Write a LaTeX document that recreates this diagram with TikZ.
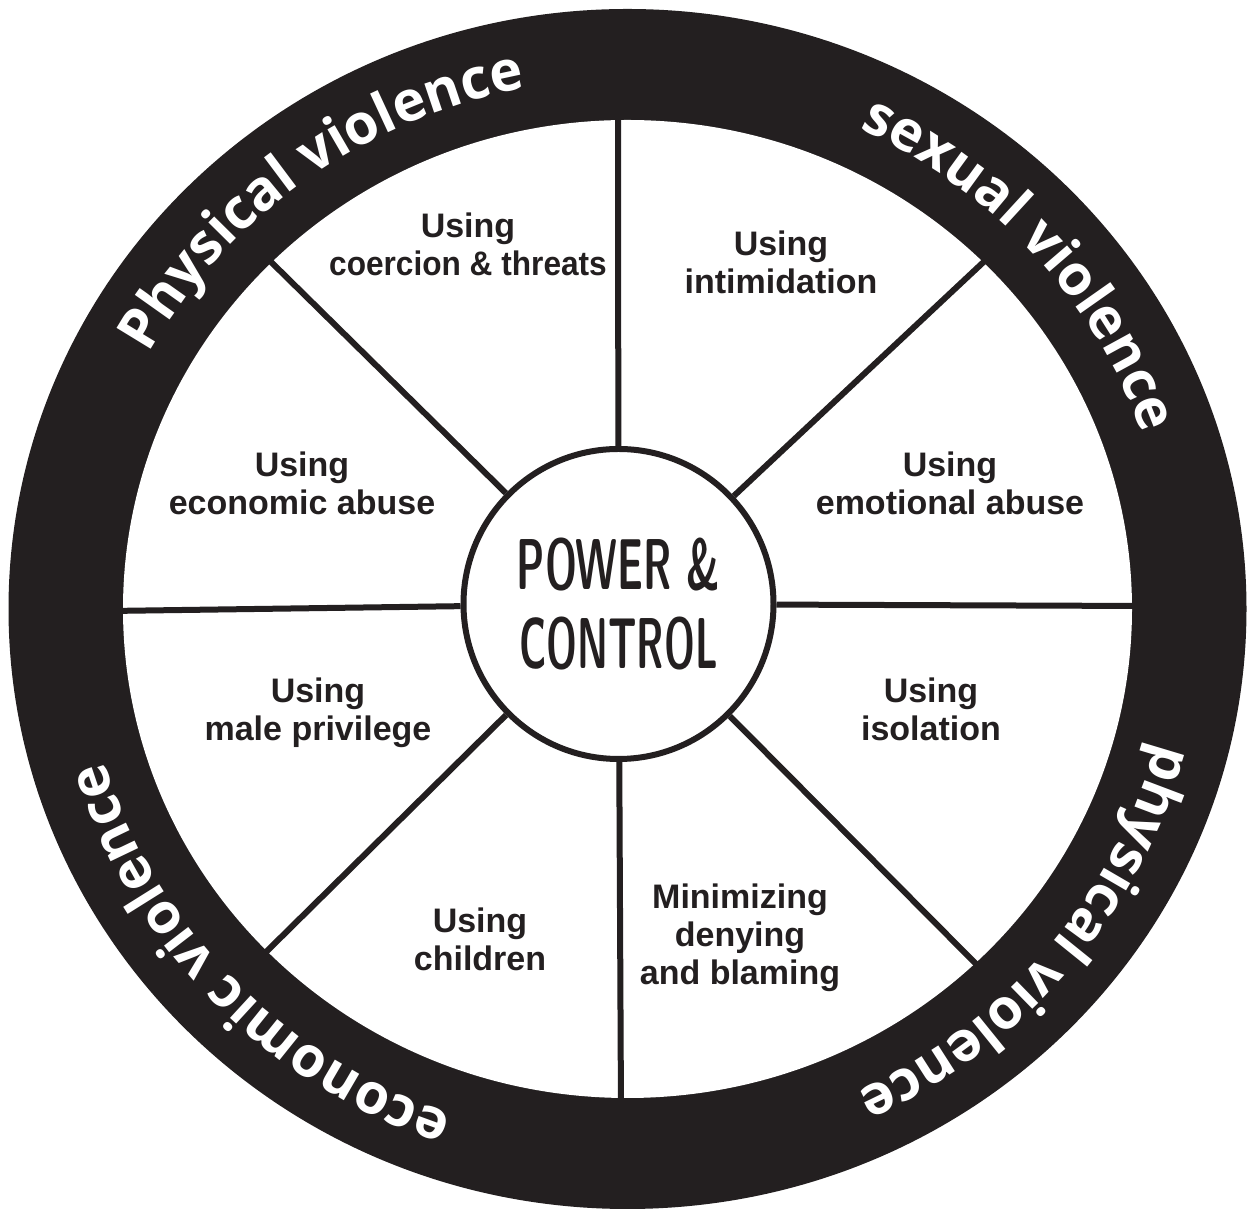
\documentclass[tikz,border=0pt]{standalone}
\usepackage{fontspec}
\usetikzlibrary{decorations.text}
\newfontfamily\wedgefont{Liberation Sans}
\newfontfamily\ringfont{Open Sans}
\definecolor{ink}{RGB}{35,31,32}
\begin{document}
\begin{tikzpicture}[x=0.5pt,y=0.5pt,
  spoke/.style={draw=ink,line width=3pt},
  hubstyle/.style={circle,draw=ink,line width=3pt,fill=white,minimum size=155pt,inner sep=0pt,
     font=\sffamily\bfseries\fontsize{36}{39.5}\selectfont,align=center,text=ink},
  wedge/.style={font=\wedgefont\bfseries\fontsize{17}{19}\selectfont,text=ink,align=center,anchor=base,inner sep=0pt},
  ringtext/.style={decorate,decoration={text along path,text align=center,
     text={|\ringfont\bfseries\fontsize{28}{30}\selectfont\color{white}|#1}}}
]
\useasboundingbox (0,0) rectangle (1249,1210);
\coordinate (C) at (627.5,601);
% ring and inner disc
\fill[ink] (C) ellipse [x radius=619, y radius=600];
\fill[white] (C) ellipse [x radius=504.5, y radius=489];
% hub
\node[hubstyle] (hub) at (618.5,606) {\scalebox{0.56}[1]{POWER \&}\\\scalebox{0.54}[1]{CONTROL}};
% outer ends of the spokes (inside the black ring)
\coordinate (oT)  at (618,1105);
\coordinate (oB)  at (621,98);
\coordinate (oL)  at (110,599);
\coordinate (oR)  at (1145,604);
\coordinate (oUL) at (265,954);
\coordinate (oUR) at (990,954);
\coordinate (oLL) at (261,253);
\coordinate (oLR) at (982,240);
\foreach \p in {oT,oB,oL,oR,oUL,oUR,oLL,oLR} \draw[spoke] (hub) -- (\p);
% wedge labels (anchored at the baseline of the last line)
\node[wedge] (w1) at (468,934) {Using\\\scalebox{0.93}[1]{coercion \& threats}};
\node[wedge] (w2) at (781,916) {Using\\intimidation};
\node[wedge] (w3) at (302,695) {Using\\economic abuse};
\node[wedge] (w4) at (950,695) {Using\\emotional abuse};
\node[wedge] (w5) at (318,469) {Using\\male privilege};
\node[wedge] (w6) at (931,469) {Using\\isolation};
\node[wedge] (w7) at (480,239) {Using\\children};
\node[wedge] (w8) at (740,225) {Minimizing\\denying\\and blaming};
% ring texts
\path[shift={(C)},ringtext={Physical violence}] (206.6:546 and 530) arc[start angle=206.6,end angle=46.6,x radius=546,y radius=530];
\path[shift={(C)},ringtext={sexual violence}] (121.4:546 and 530) arc[start angle=121.4,end angle=-38.6,x radius=546,y radius=530];
\path[shift={(C)},ringtext={physical violence}] (40.75:546 and 532) arc[start angle=40.75,end angle=-119.25,x radius=546,y radius=532];
\path[shift={(C)},ringtext={economic violence}] (303.4:546 and 534) arc[start angle=303.4,end angle=143.4,x radius=546,y radius=534];
\end{tikzpicture}
\end{document}
